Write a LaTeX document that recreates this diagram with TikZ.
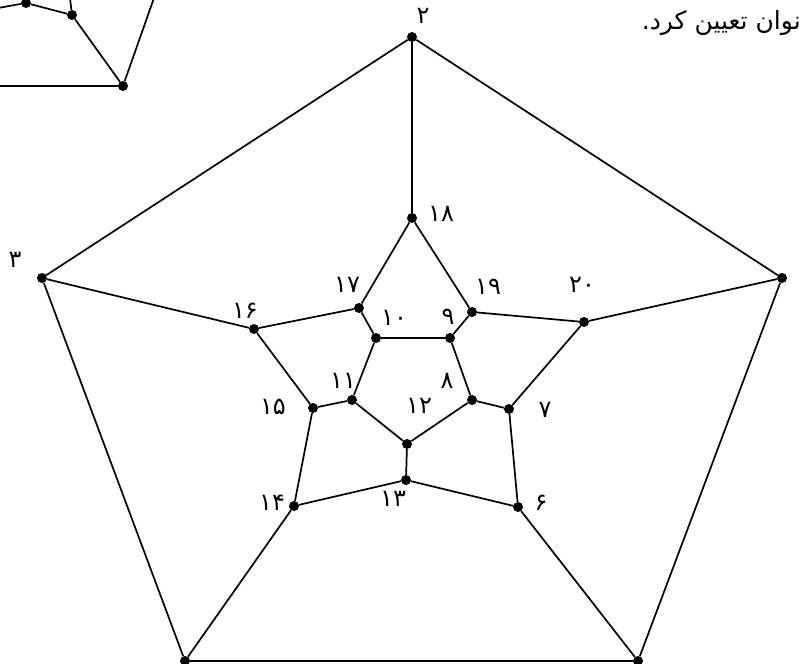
\documentclass[tikz,border=0pt]{standalone}
\usepackage{fontspec}
\newfontfamily\arabicfont[Script=Arabic]{DejaVu Sans}
\TeXXeTstate=1
\begin{document}
\begin{tikzpicture}[x=1pt,y=-1pt,
  v/.style={circle,fill=black,inner sep=0pt,minimum size=10pt},
  e/.style={line width=1.7pt},
  lab/.style={font=\arabicfont\fontsize{24}{24}\selectfont,inner sep=0pt},
  txt/.style={font=\arabicfont\fontsize{25}{25}\selectfont,inner sep=0pt}]
\useasboundingbox (0,0) rectangle (801,664);
% fragment of the previous figure (top left)
\node[v] (f1) at (26,3) {};
\node[v] (f2) at (72,15) {};
\node[v] (f3) at (123,86) {};
\coordinate (c1) at (-2,8);
\coordinate (c2) at (70,-2);
\coordinate (c3) at (154,-2);
\coordinate (c4) at (-2,86);
\draw[e] (c1) -- (f1) -- (f2) -- (c2);
\draw[e] (f2) -- (f3) -- (c3);
\draw[e] (c4) -- (f3);
% sentence (top right)
\node[txt,anchor=base east] (sent) at (801,29) {\beginR نوان تعیین کرد.\endR};
% outer pentagon
\node[v] (n2) at (412,37) {};
\node[v] (n1) at (782,278) {};
\node[v] (n3) at (42,278) {};
\node[v] (n4) at (185,661) {};
\node[v] (n5) at (638,661) {};
% middle ring
\node[v] (n18) at (412,218) {};
\node[v] (n19) at (472,312) {};
\node[v] (n20) at (584,322) {};
\node[v] (n7) at (509,409) {};
\node[v] (n6) at (518,507) {};
\node[v] (n13) at (406,480) {};
\node[v] (n14) at (294,506) {};
\node[v] (n15) at (313,408) {};
\node[v] (n16) at (254,329) {};
\node[v] (n17) at (359,308) {};
% inner pentagon
\node[v] (n9) at (450,338) {};
\node[v] (n8) at (472,400) {};
\node[v] (n12) at (407,444) {};
\node[v] (n11) at (352,400) {};
\node[v] (n10) at (376,338) {};
% edges
\draw[e] (n2) -- (n1) -- (n5) -- (n4) -- (n3) -- (n2);
\draw[e] (n2) -- (n18);
\draw[e] (n1) -- (n20);
\draw[e] (n5) -- (n6);
\draw[e] (n4) -- (n14);
\draw[e] (n3) -- (n16);
\draw[e] (n18) -- (n19) -- (n20) -- (n7) -- (n6) -- (n13) -- (n14) -- (n15) -- (n16) -- (n17) -- (n18);
\draw[e] (n19) -- (n9);
\draw[e] (n7) -- (n8);
\draw[e] (n13) -- (n12);
\draw[e] (n15) -- (n11);
\draw[e] (n17) -- (n10);
\draw[e] (n9) -- (n8) -- (n12) -- (n11) -- (n10) -- (n9);
% labels
\node[lab] (l2) at (423,16) {۲};
\node[lab] (l3) at (15,260) {۳};
\node[lab] (l20) at (582,285) {۲۰};
\node[lab] (l18) at (441,214) {۱۸};
\node[lab] (l17) at (347,285) {۱۷};
\node[lab] (l19) at (488,287) {۱۹};
\node[lab] (l10) at (394,318) {۱۰};
\node[lab] (l9) at (448,317) {۹};
\node[lab] (l16) at (245,311) {۱۶};
\node[lab] (l11) at (343,381) {۱۱};
\node[lab] (l8) at (447,381) {۸};
\node[lab] (l15) at (273,407) {۱۵};
\node[lab] (l12) at (419,406) {۱۲};
\node[lab] (l7) at (545,410) {۷};
\node[lab] (l14) at (272,503) {۱۴};
\node[lab] (l13) at (393,499) {۱۳};
\node[lab] (l6) at (541,503) {۶};
\end{tikzpicture}
\end{document}
